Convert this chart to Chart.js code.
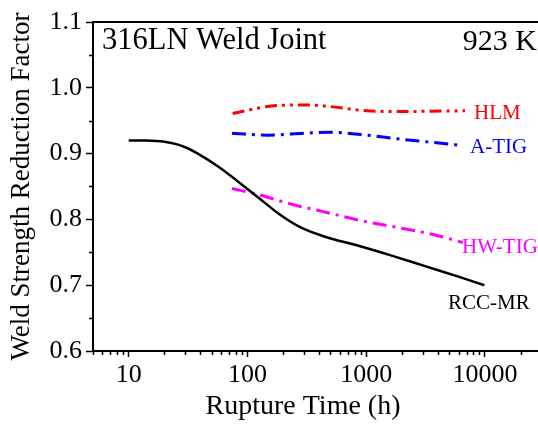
<!DOCTYPE html>
<html>
<head>
<meta charset="utf-8">
<script src="https://cdn.jsdelivr.net/npm/chart.js@4.4.1/dist/chart.umd.min.js"></script>
<style>
  html, body { margin: 0; padding: 0; background: #fff; overflow: hidden; }
  #wrap { width: 538px; height: 424px; position: relative; }
</style>
</head>
<body>
<div id="wrap"><canvas id="Chart" width="538" height="424"></canvas></div>
<script>
// data (rupture time in h, reduction factor)
const rccTime = [10, 14, 20, 26, 31, 38.5, 57, 84, 124, 182, 286, 451, 860, 1640, 3130, 5980, 9900]
const rccFactor = [0.920, 0.9198, 0.918, 0.9137, 0.9085, 0.8995, 0.880, 0.857, 0.833, 0.809, 0.787, 0.7737, 0.760, 0.745, 0.729, 0.713, 0.700]

const hlmTime = [75, 155, 316, 525, 1010, 1930, 6800]
const hlmFactor = [0.961, 0.972, 0.974, 0.971, 0.965, 0.964, 0.965]

const atigTime = [74, 150, 300, 500, 1010, 1930, 3680, 6000]
const atigFactor = [0.931, 0.928, 0.931, 0.9325, 0.928, 0.922, 0.917, 0.913]

const hwtigTime = [74, 128, 236, 410, 860, 1930, 3680, 6500]
const hwtigFactor = [0.847, 0.837, 0.823, 0.813, 0.799, 0.787, 0.777, 0.765]

const xMajorTicks = [10, 100, 1000, 10000]
const yTicks = [0.6, 0.7, 0.8, 0.9, 1.0, 1.1]

const serif = "'Liberation Serif', 'Times New Roman', serif"

function toPoints(xs, ys) {
    return xs.map((x, i) => ({x: x, y: ys[i]}))
}

// minor ticks, top frame line and the text labels inside the plot
const decorPlugin = {
    id: 'decor',
    afterDraw(chart) {
        const ctx = chart.ctx
        const area = chart.chartArea
        const xs = chart.scales.x
        const ys = chart.scales.y
        ctx.save()
        ctx.strokeStyle = '#000'
        ctx.lineWidth = 1.5
        // x minor ticks
        for (let d = 1; d <= 10000; d *= 10) {
            for (let m = 2; m <= 9; m++) {
                const v = d * m
                if (v < xs.min || v > xs.max) continue
                const px = Math.round(xs.getPixelForValue(v)) + 0.5
                ctx.beginPath()
                ctx.moveTo(px, area.bottom)
                ctx.lineTo(px, area.bottom + 4)
                ctx.stroke()
            }
        }
        // y minor ticks
        for (let i = 0; i < yTicks.length - 1; i++) {
            const py = Math.round(ys.getPixelForValue(yTicks[i] + 0.05)) + 0.5
            ctx.beginPath()
            ctx.moveTo(area.left - 4, py)
            ctx.lineTo(area.left, py)
            ctx.stroke()
        }
        // top frame
        ctx.lineWidth = 2
        ctx.beginPath()
        ctx.moveTo(area.left - 1, area.top)
        ctx.lineTo(area.right, area.top)
        ctx.stroke()

        ctx.textBaseline = 'middle'
        ctx.fillStyle = '#000'
        ctx.font = '30.5px ' + serif
        ctx.textAlign = 'left'
        ctx.fillText('316LN Weld Joint', 102, 41)
        ctx.font = '30px ' + serif
        ctx.textAlign = 'right'
        ctx.fillText('923 K', 537, 42)

        ctx.font = '21px ' + serif
        ctx.textAlign = 'left'
        ctx.fillStyle = '#ff0000'
        ctx.fillText('HLM', 474, 113)
        ctx.fillStyle = '#0000ff'
        ctx.fillText('A-TIG', 470, 147)
        ctx.fillStyle = '#ff00ff'
        ctx.fillText('HW-TIG', 462, 247)
        ctx.fillStyle = '#000'
        ctx.fillText('RCC-MR', 448, 303)

        // x axis title
        ctx.font = '28px ' + serif
        ctx.textAlign = 'center'
        ctx.fillText('Rupture Time (h)', 303, 407)
        ctx.restore()
    }
}

const ctx = document.getElementById('Chart').getContext('2d')
const myChart = new Chart(ctx, {
    type: 'line',
    data: {
        datasets: [
            {
                label: 'RCC-MR',
                data: toPoints(rccTime, rccFactor),
                borderColor: '#000',
                borderWidth: 2.5,
                cubicInterpolationMode: 'monotone'
            },
            {
                label: 'HLM',
                data: toPoints(hlmTime, hlmFactor),
                borderColor: '#ff0000',
                borderWidth: 3,
                borderDash: [12, 5, 3, 5, 3, 5],
                cubicInterpolationMode: 'monotone'
            },
            {
                label: 'A-TIG',
                data: toPoints(atigTime, atigFactor),
                borderColor: '#0000ff',
                borderWidth: 3,
                borderDash: [14, 6, 3, 6],
                cubicInterpolationMode: 'monotone'
            },
            {
                label: 'HW-TIG',
                data: toPoints(hwtigTime, hwtigFactor),
                borderColor: '#ff00ff',
                borderWidth: 3,
                borderDash: [14, 6, 3, 6],
                cubicInterpolationMode: 'monotone'
            }
        ]
    },
    options: {
        responsive: false,
        animation: false,
        events: [],
        layout: { padding: { top: 22, right: 0, left: 0, bottom: 0 } },
        elements: { point: { radius: 0 } },
        plugins: {
            legend: { display: false },
            tooltip: { enabled: false }
        },
        scales: {
            x: {
                type: 'logarithmic',
                min: 5,
                max: 28000,
                afterBuildTicks: (scale) => {
                    scale.ticks = xMajorTicks.map(v => ({value: v}))
                },
                afterFit: (scale) => { scale.height = 73 },
                ticks: {
                    autoSkip: false,
                    maxRotation: 0,
                    padding: 3,
                    color: '#000',
                    font: { family: serif, size: 26 },
                    callback: (value) => String(value)
                },
                grid: {
                    drawOnChartArea: false,
                    tickLength: 6,
                    tickWidth: 1.5,
                    tickColor: '#000'
                },
                border: { color: '#000', width: 2 }
            },
            y: {
                min: 0.6,
                max: 1.1,
                afterBuildTicks: (scale) => {
                    scale.ticks = yTicks.map(v => ({value: v}))
                },
                afterFit: (scale) => { scale.width = 93 },
                ticks: {
                    padding: 4,
                    color: '#000',
                    font: { family: serif, size: 26 },
                    callback: (value) => value.toFixed(1)
                },
                grid: {
                    drawOnChartArea: false,
                    tickLength: 7,
                    tickWidth: 1.5,
                    tickColor: '#000'
                },
                border: { color: '#000', width: 2 },
                title: {
                    display: true,
                    text: 'Weld Strength Reduction Factor',
                    color: '#000',
                    font: { family: serif, size: 27, weight: 'normal' },
                    padding: { top: 6, bottom: 0 }
                }
            }
        }
    },
    plugins: [decorPlugin]
})
</script>
</body>
</html>
